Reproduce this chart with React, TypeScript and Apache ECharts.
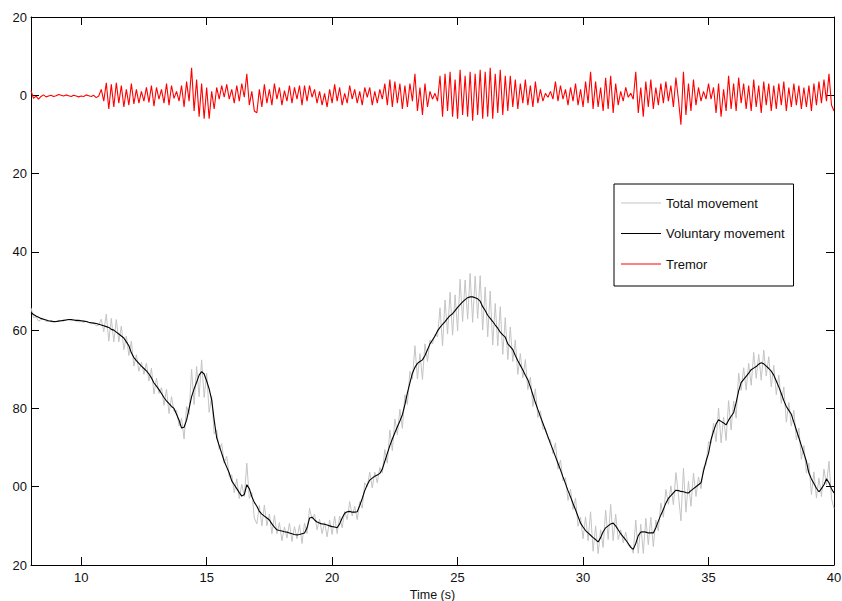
import React, { useEffect, useRef } from "react";
import * as echarts from "echarts";

const T_START = 8;
const T_STEP = 0.1;

const X_TICKS = [10, 15, 20, 25, 30, 35, 40];
const Y_TICK_TEXT: Record<string, string> = {
  "-20": "20", "0": "0", "20": "20", "40": "40", "60": "60", "80": "80", "100": "00", "120": "20",
};

const SERIES_NAMES = ["Total movement", "Voluntary movement", "Tremor"];

// voluntary movement, one row per second (0.1 s apart)
const VOLUNTARY = [
  55.5, 56.0, 56.4, 56.7, 57.0, 57.2, 57.4, 57.6, 57.7, 57.8,
  57.8, 57.7, 57.6, 57.5, 57.4, 57.3, 57.3, 57.4, 57.5, 57.5,
  57.6, 57.7, 57.8, 58.0, 58.1, 58.2, 58.3, 58.5, 58.7, 58.9,
  59.1, 59.3, 59.8, 60.0, 60.5, 61.0, 61.5, 62.0, 63.0, 64.0,
  65.8, 67.0, 67.8, 68.5, 69.2, 69.8, 70.4, 71.2, 72.2, 73.5,
  74.3, 75.2, 76.2, 77.2, 78.1, 78.8, 79.5, 80.0, 81.5, 83.0,
  85.0, 84.8, 83.0, 80.0, 77.0, 75.0, 73.3, 71.5, 70.6, 71.2,
  73.0, 75.0, 77.8, 83.0, 87.5, 89.5, 91.5, 93.5, 95.0, 96.5,
  98.5, 99.5, 100.5, 101.5, 102.4, 102.0, 99.5, 100.5, 102.5, 104.0,
  105.0, 106.3, 107.0, 107.5, 108.0, 108.5, 109.5, 110.3, 111.0, 111.2,
  111.3, 111.5, 111.6, 111.8, 112.0, 112.2, 112.3, 112.2, 112.0, 111.8,
  110.5, 108.0, 107.8, 108.5, 109.0, 109.3, 109.5, 109.6, 109.8, 110.0,
  110.2, 110.3, 110.5, 109.5, 108.0, 106.8, 106.4, 106.3, 106.5, 106.5,
  106.4, 104.8, 103.0, 101.0, 99.5, 98.3, 97.8, 97.3, 97.0, 96.6,
  95.5, 93.5, 91.5, 89.5, 87.8, 86.2, 84.7, 83.2, 81.6, 79.0,
  76.0, 73.5, 71.0, 69.5, 68.5, 68.0, 67.6, 66.5, 65.0, 63.5,
  62.5, 61.5, 60.2, 59.3, 58.5, 57.8, 57.0, 56.3, 55.8, 55.0,
  54.2, 53.5, 52.8, 52.2, 51.7, 51.5, 51.5, 51.7, 52.0, 52.6,
  54.0, 55.0, 56.2, 57.0, 57.8, 58.7, 59.5, 60.5, 61.2, 61.8,
  63.5, 64.2, 65.0, 66.5, 67.8, 69.0, 70.2, 71.5, 72.7, 74.5,
  76.5, 78.5, 80.3, 82.1, 83.8, 85.5, 87.2, 89.0, 90.6, 92.3,
  94.0, 95.7, 97.5, 99.2, 101.0, 102.6, 104.3, 105.9, 107.6, 109.3,
  110.3, 111.2, 111.8, 112.4, 113.0, 113.5, 114.1, 113.0, 111.5, 110.5,
  110.0, 109.5, 109.3, 110.0, 111.0, 112.0, 112.8, 113.6, 114.5, 115.5,
  116.0, 114.5, 112.5, 111.6, 111.5, 111.6, 111.8, 111.8, 111.8, 110.5,
  108.8, 107.2, 105.8, 104.2, 103.0, 102.3, 101.6, 100.9, 101.0, 101.2,
  101.3, 101.5, 101.6, 101.0, 100.5, 100.0, 99.5, 99.0, 96.0, 93.5,
  91.5, 88.0, 85.8, 84.0, 82.9, 83.3, 83.7, 84.2, 83.0, 82.0,
  81.1, 78.5, 75.5, 73.4, 72.6, 71.8, 71.0, 70.1, 69.7, 69.3,
  68.7, 68.3, 68.6, 69.2, 69.8, 70.5, 71.5, 73.0, 74.5, 76.2,
  78.0, 79.5, 80.5, 81.5, 83.5, 85.5, 87.5, 89.5, 91.5, 93.5,
  96.5, 98.0, 99.2, 100.4, 101.3, 100.5, 99.5, 98.0, 99.0, 100.5,
  101.6,
];

// tremor component, same time grid
const TREMOR = [
  -1.2, 0.8, 0.2, 1.0, 0.3, -0.1, 0.4, 0.2, 0.0, 0.3,
  0.1, -0.2, 0.0, 0.2, -0.1, 0.1, 0.3, 0.0, 0.2, 0.4,
  0.2, 0.3, -0.1, 0.1, 0.3, 0.0, 0.6, 0.2, -1.5, 1.5,
  -3.2, 3.5, -2.8, 3.0, -3.2, 2.0, -2.5, 3.0, -1.5, 2.5,
  -3.0, 2.2, -1.5, 2.0, -1.0, 1.5, -2.0, 1.8, -2.5, 2.8,
  -2.0, 1.0, -1.5, 2.0, -3.0, 2.5, -2.5, 0.8, -1.0, 1.5,
  -2.5, 3.0, -3.5, 1.5, -7.0, 4.0, -4.0, 5.5, -3.0, 6.0,
  -2.0, 6.0, -1.0, 3.5, -2.0, 1.0, -2.5, 0.5, -2.8, 1.0,
  -1.5, 2.0, -2.5, 1.5, -3.0, 0.5, -5.5, 2.5, -1.0, 4.0,
  4.5, -1.5, 3.0, -2.8, 2.0, -1.5, 2.5, -3.0, 1.0, -2.0,
  2.5, -1.2, 1.5, -2.5, 2.0, -2.0, 1.0, -2.5, 2.5, -2.5,
  1.5, -2.5, 0.5, -1.5, 2.0, -1.0, 2.5, -0.5, 3.0, -1.5,
  2.0, -2.8, 1.5, -2.0, 2.5, -0.5, 2.0, -2.5, 1.0, -1.5,
  2.0, -1.0, 2.5, -2.0, 0.5, -2.0, 2.5, -1.0, 2.0, -1.5,
  1.0, -3.0, 2.5, -4.0, 3.0, -3.5, 2.0, -3.0, 3.5, -2.5,
  3.0, -3.0, 1.5, -5.5, 4.0, -2.0, 5.0, -3.0, 3.0, -1.0,
  1.0, -0.5, 1.5, -5.0, 5.5, -5.5, 4.0, -6.0, 5.5, -4.0,
  6.0, -6.5, 5.0, -5.0, 5.5, -6.0, 6.5, -5.5, 5.0, -6.5,
  6.0, -6.0, 5.5, -7.0, 6.0, -5.5, 4.5, -6.5, 5.0, -5.0,
  4.0, -5.0, 3.0, -4.0, 3.5, -3.0, 2.0, -4.0, 2.5, -2.5,
  3.0, -3.5, 2.0, -1.5, 1.5, -0.5, 0.5, -1.0, 1.0, -3.5,
  1.5, -2.5, 1.0, -1.5, 2.5, -2.0, 1.5, -3.0, 2.5, -1.5,
  3.0, -3.5, 2.0, -6.0, 3.5, -3.5, 3.0, -2.0, 4.0, -4.5,
  3.5, -5.0, 4.5, -3.0, 2.5, -1.0, 1.5, -2.0, 0.5, -0.5,
  1.0, -6.0, 4.5, -2.0, 5.5, -3.5, 3.0, -4.0, 3.5, -2.0,
  2.5, -3.0, 2.0, -3.5, 1.5, -2.5, 3.0, -4.5, 1.0, 7.5,
  -6.0, 5.0, -3.0, 4.0, -4.0, 2.5, -2.0, 1.5, -1.0, 1.0,
  -3.0, 1.0, -2.0, 4.5, -3.0, 5.5, -1.5, 4.0, -5.0, 3.5,
  -3.0, 4.0, -4.5, 2.0, -3.0, 3.5, -2.5, 4.0, -4.0, 3.0,
  -2.5, 4.5, -3.5, 2.5, -3.0, 4.0, -2.5, 3.5, -3.0, 2.5,
  -3.5, 4.0, -2.0, 3.0, -3.0, 2.5, -2.5, 3.5, -2.0, 3.0,
  -2.5, 4.0, -3.0, 2.5, -3.5, 2.0, -4.0, 1.5, -5.5, 2.5,
  4.0,
];

const FONT = "'Liberation Sans', Arial, sans-serif";

export default function App() {
  const ref = useRef<HTMLDivElement>(null);

  useEffect(() => {
    document.body.style.margin = "0";
    if (!ref.current) return;
    const chart = echarts.init(ref.current, null, { renderer: "svg" });

    const time = VOLUNTARY.map((_, i) => Math.round((T_START + i * T_STEP) * 10) / 10);
    const voluntary = VOLUNTARY.map((v, i) => [time[i], v]);
    const tremor = TREMOR.map((v, i) => [time[i], v]);
    const total = VOLUNTARY.map((v, i) => [time[i], v + TREMOR[i]]);

    const tickStyle = { show: true, inside: true, length: 8, lineStyle: { color: "#000", width: 1 } };
    const lineAx = { show: true, onZero: false, lineStyle: { color: "#000", width: 1 } };

    chart.setOption({
      animation: false,
      backgroundColor: "#fff",
      grid: { left: 31, right: 8, top: 17, bottom: 36, containLabel: false, outerBoundsMode: "none" },
      legend: {
        orient: "vertical",
        left: 614,
        top: 184,
        data: SERIES_NAMES,
        icon: "rect",
        itemWidth: 40,
        itemHeight: 1,
        itemGap: 17.5,
        padding: [12.5, 9, 15.5, 7],
        borderColor: "#000",
        borderWidth: 1,
        backgroundColor: "#fff",
        textStyle: { fontFamily: FONT, fontSize: 13, color: "#111" },
      },
      xAxis: [
        {
          type: "value",
          min: 8,
          max: 40,
          position: "bottom",
          axisLine: lineAx,
          axisTick: { ...tickStyle, customValues: X_TICKS },
          axisLabel: {
            customValues: X_TICKS,
            margin: 6,
            fontFamily: FONT,
            fontSize: 13,
            color: "#111",
            showMinLabel: true,
            showMaxLabel: true,
          },
          splitLine: { show: false },
          name: "Time (s)",
          nameLocation: "middle",
          nameGap: 18,
          nameTextStyle: { fontFamily: FONT, fontSize: 12.5, color: "#111" },
        },
        {
          type: "value",
          min: 8,
          max: 40,
          position: "top",
          axisLine: lineAx,
          axisTick: { ...tickStyle, customValues: X_TICKS },
          axisLabel: { show: false },
          splitLine: { show: false },
        },
      ],
      yAxis: [
        {
          type: "value",
          inverse: true,
          min: -20,
          max: 120,
          interval: 20,
          position: "left",
          axisLine: lineAx,
          axisTick: tickStyle,
          axisLabel: {
            margin: 4,
            fontFamily: FONT,
            fontSize: 13,
            color: "#111",
            formatter: (v: number) => Y_TICK_TEXT[String(v)] ?? String(v),
          },
          splitLine: { show: false },
        },
        {
          type: "value",
          inverse: true,
          min: -20,
          max: 120,
          interval: 20,
          position: "right",
          axisLine: lineAx,
          axisTick: tickStyle,
          axisLabel: { show: false },
          splitLine: { show: false },
        },
      ],
      series: [
        {
          name: SERIES_NAMES[0],
          type: "line",
          data: total,
          symbol: "none",
          lineStyle: { color: "#c4c4c4", width: 1 },
          itemStyle: { color: "#c4c4c4" },
          z: 1,
        },
        {
          name: SERIES_NAMES[1],
          type: "line",
          data: voluntary,
          symbol: "none",
          lineStyle: { color: "#000", width: 1.1 },
          itemStyle: { color: "#000" },
          z: 2,
        },
        {
          name: SERIES_NAMES[2],
          type: "line",
          data: tremor,
          symbol: "none",
          lineStyle: { color: "#ff0000", width: 1.1 },
          itemStyle: { color: "#ff0000" },
          z: 3,
        },
      ],
    });

    return () => chart.dispose();
  }, []);

  return <div ref={ref} style={{ width: 842, height: 601 }} />;
}
